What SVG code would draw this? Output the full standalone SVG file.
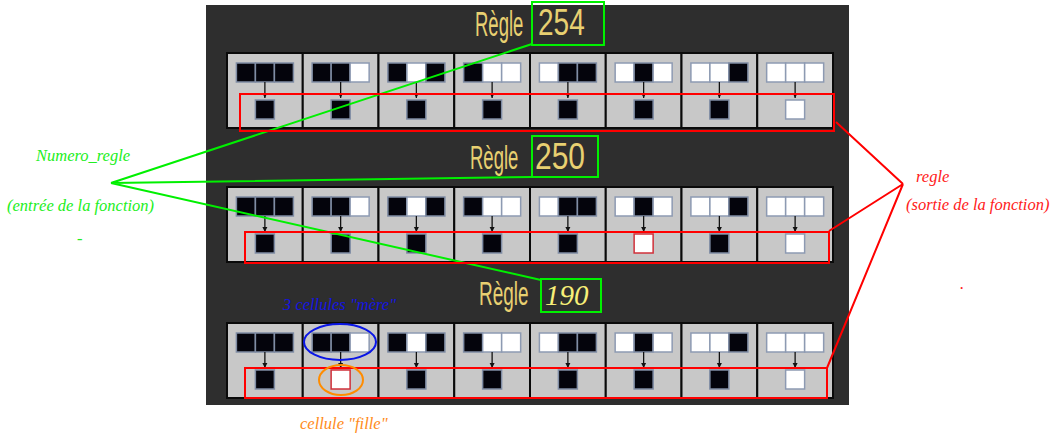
<svg xmlns="http://www.w3.org/2000/svg" width="1063" height="443" viewBox="0 0 1063 443">
<style>
.b{fill:#04040c;stroke:#7f8ca4;stroke-width:1.5}
.w{fill:#ffffff;stroke:#8d9ab2;stroke-width:1.5}
.wr{fill:#ffffff;stroke:#d0303a;stroke-width:1.5}
.cell{fill:#c8c8c8;stroke:#0a0a0a;stroke-width:2}
.arr{stroke:#111;stroke-width:1.3;fill:none}
.chalk{font-family:"Liberation Sans",Arial,sans-serif;fill:#e8d071}
.lab{font-family:"Liberation Serif","Times New Roman",serif;font-style:italic;font-size:16.5px}
.g{stroke:#00f000;stroke-width:2;fill:none}
.r{stroke:#ff0000;stroke-width:2;fill:none}
</style>
<defs>
<marker id="ah" markerWidth="6" markerHeight="6" refX="5" refY="3" orient="auto" markerUnits="userSpaceOnUse">
<path d="M0,0.5 L5,3 L0,5.5 Z" fill="#111"/>
</marker>
<rect id="B" width="19" height="19" class="b"/>
<rect id="W" width="19" height="19" class="w"/>
<g id="panel">
<rect class="cell" x="0" y="0" width="75.75" height="75"/>
<rect class="cell" x="75.75" y="0" width="75.75" height="75"/>
<rect class="cell" x="151.5" y="0" width="75.75" height="75"/>
<rect class="cell" x="227.25" y="0" width="75.75" height="75"/>
<rect class="cell" x="303" y="0" width="75.75" height="75"/>
<rect class="cell" x="378.75" y="0" width="75.75" height="75"/>
<rect class="cell" x="454.5" y="0" width="75.75" height="75"/>
<rect class="cell" x="530.25" y="0" width="75.75" height="75"/>
<use href="#B" x="9.4" y="10"/><use href="#B" x="28.4" y="10"/><use href="#B" x="47.4" y="10"/>
<use href="#B" x="85.15" y="10"/><use href="#B" x="104.15" y="10"/><use href="#W" x="123.15" y="10"/>
<use href="#B" x="160.9" y="10"/><use href="#W" x="179.9" y="10"/><use href="#B" x="198.9" y="10"/>
<use href="#B" x="236.65" y="10"/><use href="#W" x="255.65" y="10"/><use href="#W" x="274.65" y="10"/>
<use href="#W" x="312.4" y="10"/><use href="#B" x="331.4" y="10"/><use href="#B" x="350.4" y="10"/>
<use href="#W" x="388.15" y="10"/><use href="#B" x="407.15" y="10"/><use href="#W" x="426.15" y="10"/>
<use href="#W" x="463.9" y="10"/><use href="#W" x="482.9" y="10"/><use href="#B" x="501.9" y="10"/>
<use href="#W" x="539.65" y="10"/><use href="#W" x="558.65" y="10"/><use href="#W" x="577.65" y="10"/>
<path class="arr" marker-end="url(#ah)" d="M37.875,29V45"/>
<path class="arr" marker-end="url(#ah)" d="M113.625,29V45"/>
<path class="arr" marker-end="url(#ah)" d="M189.375,29V45"/>
<path class="arr" marker-end="url(#ah)" d="M265.125,29V45"/>
<path class="arr" marker-end="url(#ah)" d="M340.875,29V45"/>
<path class="arr" marker-end="url(#ah)" d="M416.625,29V45"/>
<path class="arr" marker-end="url(#ah)" d="M492.375,29V45"/>
<path class="arr" marker-end="url(#ah)" d="M568.125,29V45"/>
</g>
</defs>

<rect id="board" x="206" y="5" width="643" height="400" fill="#2e2e2e"/>

<g id="row1" transform="translate(227,53)">
<use href="#panel"/>
<use href="#B" x="28.375" y="47"/><use href="#B" x="104.125" y="47"/><use href="#B" x="179.875" y="47"/><use href="#B" x="255.625" y="47"/>
<use href="#B" x="331.375" y="47"/><use href="#B" x="407.125" y="47"/><use href="#B" x="482.875" y="47"/><use href="#W" x="558.625" y="47"/>
</g>
<g id="row2" transform="translate(227,187)">
<use href="#panel"/>
<use href="#B" x="28.375" y="47"/><use href="#B" x="104.125" y="47"/><use href="#B" x="179.875" y="47"/><use href="#B" x="255.625" y="47"/>
<use href="#B" x="331.375" y="47"/><rect class="wr" x="407.125" y="47" width="19" height="19"/><use href="#B" x="482.875" y="47"/><use href="#W" x="558.625" y="47"/>
</g>
<g id="row3" transform="translate(227,323)">
<use href="#panel"/>
<use href="#B" x="28.375" y="47"/><rect class="wr" x="104.125" y="47" width="19" height="19"/><use href="#B" x="179.875" y="47"/><use href="#B" x="255.625" y="47"/>
<use href="#B" x="331.375" y="47"/><use href="#B" x="407.125" y="47"/><use href="#B" x="482.875" y="47"/><use href="#W" x="558.625" y="47"/>
</g>

<g id="title1">
<text class="chalk" font-size="18.5" transform="translate(475,36) scale(1,1.85)">Règle</text>
<text class="chalk" font-size="28" transform="translate(538,35) scale(1,1.3)">254</text>
<rect class="g" x="532" y="2" width="72" height="43"/>
</g>
<g id="title2">
<text class="chalk" font-size="18.5" transform="translate(470,169) scale(1,1.8)">Règle</text>
<text class="chalk" font-size="30" transform="translate(535,169) scale(1,1.2)">250</text>
<rect class="g" x="532" y="136" width="66" height="41"/>
</g>
<g id="title3">
<text class="chalk" font-size="19" transform="translate(479,305) scale(1,1.75)">Règle</text>
<text x="545" y="305" font-family="'Liberation Serif','Times New Roman',serif" font-style="italic" font-size="29" fill="#f7ef78">190</text>
<rect class="g" x="541" y="279" width="60" height="33"/>
</g>

<g id="connectors">
<path class="g" d="M111,183 L532,44 M111,183 L532,177 M111,183 L541,280"/>
<path class="r" d="M903,184 L836,122 M903,184 L829,231 M903,184 L827,368"/>
<rect class="r" x="240" y="94" width="594" height="37"/>
<rect class="r" x="245" y="232" width="584" height="31"/>
<rect class="r" x="245" y="368" width="582" height="30"/>
<ellipse cx="340" cy="342" rx="36" ry="18" fill="none" stroke="#0a16e6" stroke-width="2"/>
<ellipse cx="341" cy="380" rx="22" ry="15" fill="none" stroke="#ff8c00" stroke-width="2"/>
</g>

<g id="label-input">
<text class="lab" x="36" y="161" fill="#22ee22">Numero_regle</text>
<text class="lab" x="7" y="211" fill="#22ee22">(entrée de la fonction)</text>
<text class="lab" x="77" y="244" fill="#22ee22">-</text>
</g>
<g id="label-output">
<text class="lab" x="916" y="182" fill="#ff2020">regle</text>
<text class="lab" x="906" y="210" fill="#ff2020">(sortie de la fonction)</text>
<text class="lab" x="960" y="289" fill="#ff2020">.</text>
</g>
<g id="label-mere">
<text class="lab" x="283" y="310" fill="#1414e0">3 cellules "mère"</text>
</g>
<g id="label-fille">
<text class="lab" x="300" y="429" fill="#ff8c1a">cellule "fille"</text>
</g>
</svg>
